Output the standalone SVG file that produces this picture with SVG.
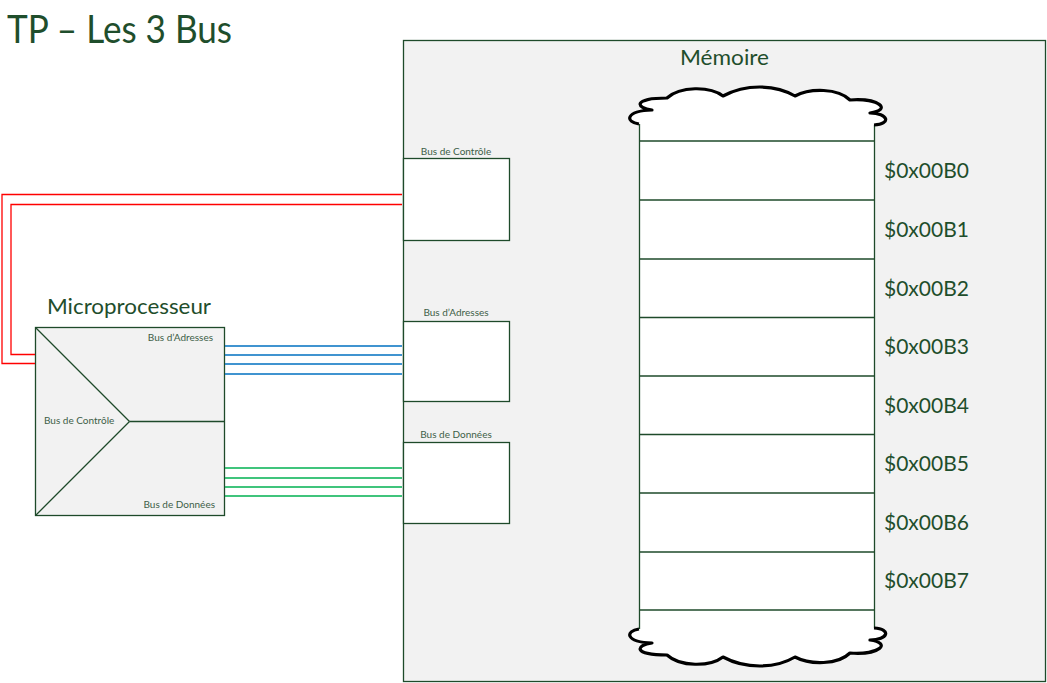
<svg xmlns="http://www.w3.org/2000/svg" xmlns:xlink="http://www.w3.org/1999/xlink" width="1047" height="683" viewBox="0 0 1047 683">
<style>
.ttl{font-family:Lato,"Liberation Sans",sans-serif;fill:#1f4e2c}
.sm{font-family:Lato,"Liberation Sans",sans-serif;font-size:10px;fill:#3d5e47}
.addr{font-family:Lato,"Liberation Sans",sans-serif;font-size:21px;fill:#1f4e2c}
.box{stroke:#1e4a2a;stroke-width:1.3}
.red{stroke:#ff0000;stroke-width:1.3;fill:none}
.blue{stroke:#0070c0;stroke-width:1.3}
.green{stroke:#00b050;stroke-width:1.3}
.cloud{fill:#fff;stroke:#000;stroke-width:3.2;stroke-linejoin:round}
</style>
<defs>
<path id="cloudTop" class="cloud" d="M639,124 C625,122 625,111 652,110 C636,108 632,98 667,98 C680,86 710,86 723,96 C745,84 775,84 795,96 C810,88 838,88 850,100 C880,98 892,110 870,113 C888,113 892,124 874,125"/>
</defs>
<rect width="1047" height="683" fill="#fff"/>
<text class="ttl" x="7" y="42.5" font-size="39.5" textLength="225" lengthAdjust="spacingAndGlyphs">TP – Les 3 Bus</text>

<g id="memoire">
<rect class="box" x="403.5" y="40.5" width="642" height="641" fill="#f2f2f2"/>
<text class="ttl" x="680" y="65" font-size="21" textLength="89" lengthAdjust="spacingAndGlyphs">Mémoire</text>
</g>

<g id="mem-bus-controle">
<rect class="box" x="403.5" y="158.5" width="106" height="82" fill="#fff"/>
<text class="sm" x="456" y="155" text-anchor="middle">Bus de Contrôle</text>
</g>
<g id="mem-bus-adresses">
<rect class="box" x="403.5" y="321.5" width="106" height="80" fill="#fff"/>
<text class="sm" x="456" y="316" text-anchor="middle">Bus d’Adresses</text>
</g>
<g id="mem-bus-donnees">
<rect class="box" x="403.5" y="442.5" width="106" height="81" fill="#fff"/>
<text class="sm" x="456" y="438" text-anchor="middle">Bus de Données</text>
</g>

<g id="memory-column">
<rect class="box" x="639.5" y="118" width="235" height="512" fill="#fff"/>
<g class="box">
<line x1="639.5" y1="141" x2="874.5" y2="141"/>
<line x1="639.5" y1="200" x2="874.5" y2="200"/>
<line x1="639.5" y1="259" x2="874.5" y2="259"/>
<line x1="639.5" y1="317.5" x2="874.5" y2="317.5"/>
<line x1="639.5" y1="376" x2="874.5" y2="376"/>
<line x1="639.5" y1="434.5" x2="874.5" y2="434.5"/>
<line x1="639.5" y1="493" x2="874.5" y2="493"/>
<line x1="639.5" y1="552" x2="874.5" y2="552"/>
<line x1="639.5" y1="610" x2="874.5" y2="610"/>
</g>
<use xlink:href="#cloudTop"/>
<use xlink:href="#cloudTop" transform="matrix(1,0,0,-1,0,753)"/>
<text class="addr" x="884" y="178">$0x00B0</text>
<text class="addr" x="884" y="237">$0x00B1</text>
<text class="addr" x="884" y="296">$0x00B2</text>
<text class="addr" x="884" y="354">$0x00B3</text>
<text class="addr" x="884" y="413">$0x00B4</text>
<text class="addr" x="884" y="471">$0x00B5</text>
<text class="addr" x="884" y="530">$0x00B6</text>
<text class="addr" x="884" y="588">$0x00B7</text>
</g>

<g id="microprocesseur">
<text class="ttl" x="47" y="314" font-size="21" textLength="164" lengthAdjust="spacingAndGlyphs">Microprocesseur</text>
<rect class="box" x="35.5" y="327.5" width="189" height="188" fill="#f2f2f2"/>
<g class="box" fill="none">
<line x1="36" y1="328" x2="129.5" y2="421.5"/>
<line x1="129.5" y1="421.5" x2="36" y2="515"/>
<line x1="129.5" y1="421.5" x2="224" y2="421.5"/>
</g>
<text class="sm" x="213" y="341" text-anchor="end">Bus d’Adresses</text>
<text class="sm" x="44" y="424">Bus de Contrôle</text>
<text class="sm" x="215" y="507.5" text-anchor="end">Bus de Données</text>
</g>

<g id="connectors">
<polyline class="red" points="35,363.5 2,363.5 2,194.5 402,194.5"/>
<polyline class="red" points="35,354.5 11,354.5 11,204.5 402,204.5"/>
<line class="blue" x1="225" y1="346" x2="402" y2="346"/>
<line class="blue" x1="225" y1="355" x2="402" y2="355"/>
<line class="blue" x1="225" y1="364" x2="402" y2="364"/>
<line class="blue" x1="225" y1="374" x2="402" y2="374"/>
<line class="green" x1="225" y1="468" x2="402" y2="468"/>
<line class="green" x1="225" y1="478" x2="402" y2="478"/>
<line class="green" x1="225" y1="487" x2="402" y2="487"/>
<line class="green" x1="225" y1="496" x2="402" y2="496"/>
</g>
</svg>
